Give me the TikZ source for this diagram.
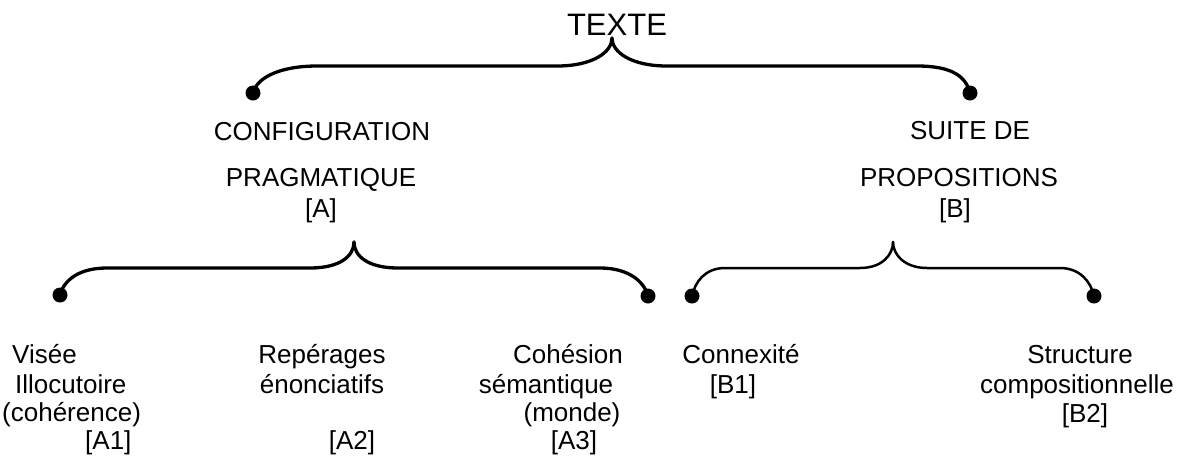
\documentclass[tikz,border=0pt]{standalone}
\usepackage{fontspec}
\setmainfont{Liberation Sans}

\tikzset{
    lbl/.style={font=\fontsize{26}{29}\selectfont, inner sep=0pt, anchor=base},
    brace/.style={line width=3.3pt, line cap=round, line join=round},
    thinbrace/.style={line width=2.5pt, line cap=round, line join=round}
}

\begin{document}
\begin{tikzpicture}[x=1pt, y=-1pt]
    \useasboundingbox (0,0) rectangle (1189,459);

    \node[lbl, font=\fontsize{31}{35}\selectfont] (texte) at (617,35) {TEXTE};

    \node[lbl] (cfgA) at (322,140) {CONFIGURATION};
    \node[lbl] (cfgB) at (321,186) {PRAGMATIQUE};
    \node[lbl] (cfgC) at (321,217) {[A]};

    \node[lbl] (sdpA) at (970,139) {SUITE DE};
    \node[lbl] (sdpB) at (959,186) {PROPOSITIONS};
    \node[lbl] (sdpC) at (955,217) {[B]};

    \node[lbl, anchor=base west] (visA) at (12,363) {Visée};
    \node[lbl, anchor=base west] (visB) at (15,393) {Illocutoire};
    \node[lbl, anchor=base west] (visC) at (2,421) {(cohérence)};
    \node[lbl, anchor=base west] (visD) at (85,449) {[A1]};

    \node[lbl] (repA) at (322,363) {Repérages};
    \node[lbl] (repB) at (322,393) {énonciatifs};
    \node[lbl] (repC) at (352,449) {[A2]};

    \node[lbl] (cohA) at (568,363) {Cohésion};
    \node[lbl] (cohB) at (546,393) {sémantique};
    \node[lbl] (cohC) at (572,421) {(monde)};
    \node[lbl] (cohD) at (574,449) {[A3]};

    \node[lbl] (conA) at (741,363) {Connexité};
    \node[lbl] (conB) at (733,393) {[B1]};

    \node[lbl] (strA) at (1080,363) {Structure};
    \node[lbl] (strB) at (1077,393) {compositionnelle};
    \node[lbl] (strC) at (1085,422) {[B2]};

    % brace tips and end dots
    \coordinate (txtTip) at (612,38);
    \coordinate (cfgDot) at (253,93);
    \coordinate (sdpDot) at (970,93);
    \coordinate (cfgTip) at (354,242);
    \coordinate (visDot) at (60,295);
    \coordinate (cohDot) at (648,296);
    \coordinate (sdpTip) at (893,242);
    \coordinate (conDot) at (692,296);
    \coordinate (strDot) at (1094,296);

    \draw[brace] (cfgDot) .. controls +(4,-16) and +(-36,0) .. (317,66) -- (557,66)
        .. controls +(36,0) and +(0,14) .. (txtTip);
    \draw[brace] (txtTip) .. controls +(0,14) and +(-36,0) .. (667,66) -- (917,66)
        .. controls +(36,0) and +(-4,-16) .. (sdpDot);

    \draw[brace] (visDot) .. controls +(4,-15) and +(-28,0) .. (107,268) -- (310,268)
        .. controls +(30,0) and +(0,14) .. (cfgTip);
    \draw[brace] (cfgTip) .. controls +(0,14) and +(-30,0) .. (398,268) -- (600,268)
        .. controls +(28,0) and +(-4,-15) .. (cohDot);

    \draw[thinbrace] (conDot) .. controls +(3,-14) and +(-20,0) .. (725,268) -- (860,268)
        .. controls +(22,0) and +(0,13) .. (sdpTip);
    \draw[thinbrace] (sdpTip) .. controls +(0,13) and +(-22,0) .. (927,268) -- (1060,268)
        .. controls +(20,0) and +(-3,-14) .. (strDot);

    \foreach \d in {cfgDot, sdpDot, visDot, cohDot, conDot, strDot}
        \fill (\d) circle (7.5);
\end{tikzpicture}
\end{document}
